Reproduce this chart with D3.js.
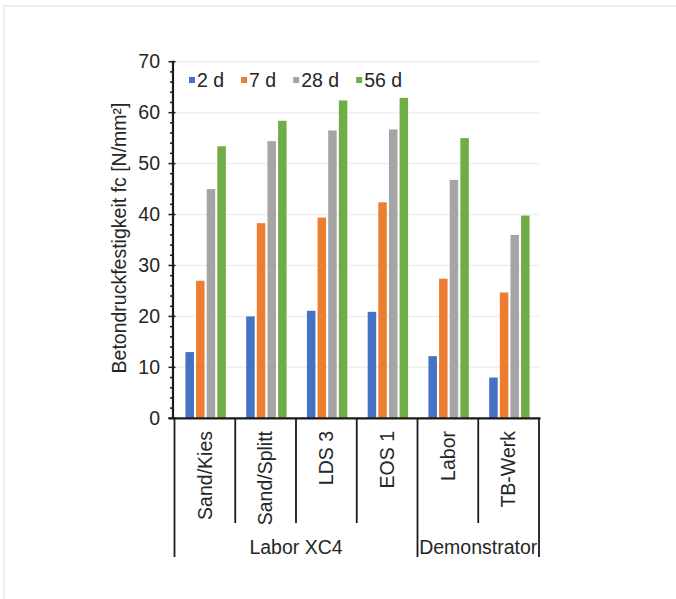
<!DOCTYPE html>
<html>
<head>
<meta charset="utf-8">
<script src="https://cdn.jsdelivr.net/npm/d3@7/dist/d3.min.js"></script>
<style>
  html, body { margin: 0; padding: 0; background: #fff; }
  svg { display: block; font-family: "Liberation Sans", Arial, sans-serif; }
</style>
</head>
<body>
<svg id="chart" width="676" height="599"></svg>
<script>
// Compressive strength of concrete mixes by age
const categories = ["Sand/Kies", "Sand/Splitt", "LDS 3", "EOS 1", "Labor", "TB-Werk"];
const groups = [
  { name: "Labor XC4", members: ["Sand/Kies", "Sand/Splitt", "LDS 3", "EOS 1"] },
  { name: "Demonstrator", members: ["Labor", "TB-Werk"] }
];
const seriesNames = ["2 d", "7 d", "28 d", "56 d"];
const values2d  = [13.0, 20.0, 21.1, 20.9, 12.2, 8.0];
const values7d  = [27.0, 38.3, 39.4, 42.4, 27.4, 24.7];
const values28d = [45.0, 54.4, 56.5, 56.7, 46.8, 36.0];
const values56d = [53.4, 58.4, 62.4, 62.9, 55.0, 39.8];
const yTicks = [0, 10, 20, 30, 40, 50, 60, 70];
const yTitle = "Betondruckfestigkeit fc [N/mm²]";

const seriesValues = [values2d, values7d, values28d, values56d];
const colors = ["#4472C4", "#ED7D31", "#A5A5A5", "#70AD47"];
const textColor = "#262626";
const axisColor = "#1a1a1a";
const fontSize = 19.5;

const svg = d3.select("#chart");

// faint frame along top and left edges
svg.append("line").attr("x1", 4).attr("x2", 676).attr("y1", 6).attr("y2", 6)
  .attr("stroke", "#ebebeb").attr("stroke-width", 1.5);
svg.append("line").attr("x1", 4).attr("x2", 4).attr("y1", 6).attr("y2", 599)
  .attr("stroke", "#ebebeb").attr("stroke-width", 1.5);

const plot = { left: 174.5, right: 539, top: 61.7, bottom: 418.3 };

const y = d3.scaleLinear().domain([0, 70]).range([plot.bottom, plot.top]);
const x = d3.scaleBand().domain(categories).range([plot.left, plot.right]).padding(0);
const xInner = d3.scaleBand().domain(seriesNames)
  .range([x.bandwidth() * 0.18, x.bandwidth() * 0.845]).paddingInner(0.2);

// gridlines
svg.append("g").selectAll("line").data(yTicks.filter(d => d > 0)).join("line")
  .attr("x1", plot.left).attr("x2", plot.right)
  .attr("y1", d => y(d)).attr("y2", d => y(d))
  .attr("stroke", "#efefef").attr("stroke-width", 1.5);

// bars
const rows = categories.map((c, i) => ({ cat: c, vals: seriesValues.map(s => s[i]) }));
svg.append("g").selectAll("g").data(rows).join("g")
  .attr("transform", d => `translate(${x(d.cat)},0)`)
  .selectAll("rect").data(d => d.vals.map((v, j) => ({ key: seriesNames[j], v, j })))
  .join("rect")
  .attr("x", d => xInner(d.key))
  .attr("width", xInner.bandwidth())
  .attr("y", d => y(d.v))
  .attr("height", d => y(0) - y(d.v))
  .attr("fill", d => colors[d.j]);

// y axis with minor ticks every 2 units
const yAxis = d3.axisLeft(y).tickValues(yTicks).tickSize(0).tickPadding(13);
const gy = svg.append("g").attr("transform", `translate(${plot.left - 1.5},0)`).call(yAxis);
gy.select(".domain").remove();
gy.selectAll("text").attr("fill", textColor).style("font-size", fontSize + "px")
  .attr("font-family", "Liberation Sans, Arial, sans-serif");

const minor = d3.range(0, 71, 2).filter(v => v % 10 !== 0);
svg.append("g").selectAll("line").data(minor).join("line")
  .attr("x1", plot.left - 4.5).attr("x2", plot.left - 1.5)
  .attr("y1", d => y(d)).attr("y2", d => y(d))
  .attr("stroke", axisColor).attr("stroke-width", 1.5);
svg.append("g").selectAll("line").data(yTicks).join("line")
  .attr("x1", plot.left - 6).attr("x2", plot.left + 1)
  .attr("y1", d => y(d)).attr("y2", d => y(d))
  .attr("stroke", axisColor).attr("stroke-width", 1.5);
svg.append("line")
  .attr("x1", plot.left - 1.5).attr("x2", plot.left - 1.5)
  .attr("y1", y(70) - 1).attr("y2", plot.bottom)
  .attr("stroke", axisColor).attr("stroke-width", 2.2);

// x axis baseline
svg.append("line")
  .attr("x1", plot.left - 6).attr("x2", plot.right + 1.5)
  .attr("y1", plot.bottom).attr("y2", plot.bottom)
  .attr("stroke", axisColor).attr("stroke-width", 2.2);

// category separators: short between members, long at group edges
const groupEdges = [plot.left];
let acc = 0;
groups.forEach(g => { acc += g.members.length; groupEdges.push(x(categories[acc - 1]) + x.bandwidth()); });
const innerEdges = categories.slice(1).map(c => x(c)).filter(e => !groupEdges.some(g => Math.abs(g - e) < 0.5));
svg.append("g").selectAll("line").data(innerEdges).join("line")
  .attr("x1", d => d).attr("x2", d => d)
  .attr("y1", plot.bottom).attr("y2", 523)
  .attr("stroke", axisColor).attr("stroke-width", 1.8);
svg.append("g").selectAll("line").data(groupEdges).join("line")
  .attr("x1", d => d).attr("x2", d => d)
  .attr("y1", plot.bottom).attr("y2", 557)
  .attr("stroke", axisColor).attr("stroke-width", 1.8);

// category labels (rotated)
svg.append("g").selectAll("text").data(categories).join("text")
  .attr("transform", d => `translate(${x(d) + x.bandwidth() / 2},431) rotate(-90)`)
  .attr("text-anchor", "end").attr("dy", "0.35em")
  .attr("fill", textColor).style("font-size", fontSize + "px")
  .text(d => d);

// group labels
svg.append("g").selectAll("text").data(groups).join("text")
  .attr("x", (g, i) => (groupEdges[i] + groupEdges[i + 1]) / 2)
  .attr("y", 547).attr("dy", "0.35em")
  .attr("text-anchor", "middle")
  .attr("fill", textColor).style("font-size", fontSize + "px")
  .text(g => g.name);

// y axis title
svg.append("text")
  .attr("transform", "translate(119,238) rotate(-90)")
  .attr("text-anchor", "middle").attr("dy", "0.35em")
  .attr("fill", textColor).style("font-size", fontSize + "px")
  .text(yTitle);

// legend
const legend = svg.append("g").attr("transform", "translate(189,80)");
let lx = 0;
seriesNames.forEach((name, i) => {
  const item = legend.append("g").attr("transform", `translate(${lx},0)`);
  item.append("rect").attr("x", 0).attr("y", -3).attr("width", 6).attr("height", 6).attr("fill", colors[i]);
  const t = item.append("text").attr("x", 8).attr("dy", "0.35em")
    .attr("fill", textColor).style("font-size", fontSize + "px").text(name);
  lx += 8 + t.node().getComputedTextLength() + 17;
});
</script>
</body>
</html>
